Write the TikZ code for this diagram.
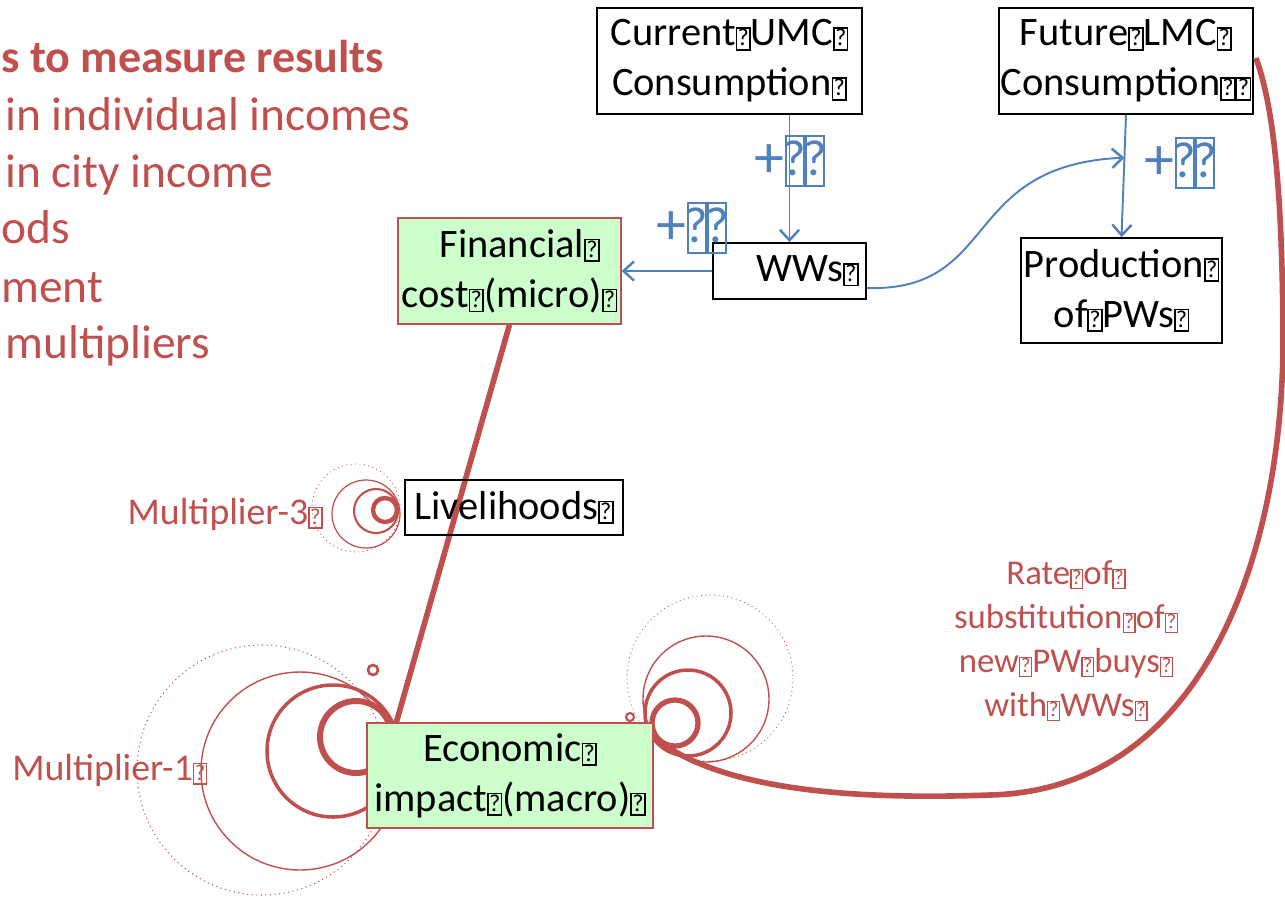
\documentclass[tikz,border=0pt]{standalone}
\usepackage{fontspec}
\setmainfont{Carlito}
\usepackage{tikz}
\usetikzlibrary{arrows.meta,positioning,calc}
\definecolor{rood}{HTML}{C0504D}
\definecolor{blauw}{HTML}{4F81BD}
\definecolor{groen}{HTML}{CCFFCC}
\newcommand{\tofu}{{\setlength{\fboxsep}{0pt}\setlength{\fboxrule}{0.04em}%
  \fbox{\makebox[0.3em]{\rule[-0.08em]{0pt}{0.5em}\raisebox{0.0em}{\scalebox{0.6}{?}}}}}}
\newcommand{\bigtofu}{{\setlength{\fboxsep}{0pt}\setlength{\fboxrule}{0.035em}%
  \fbox{\makebox[0.27em]{\rule[-0.12em]{0pt}{0.8em}\raisebox{0.04em}{\scalebox{0.85}{?}}}}}}
\tikzset{
  doos/.style={draw,line width=1.1pt,align=center,inner sep=0pt,font=\fontsize{23}{28.5}\selectfont},
  groendoos/.style={doos,draw=rood,fill=groen,line width=0.8pt},
  pijl/.style={blauw,line width=1.1pt,-{Straight Barb[length=6pt,width=11pt,line width=1.4pt]}},
  plus/.style={blauw,inner sep=0pt,font=\fontsize{34}{34}\selectfont},
  band/.style={rood,line width=3.2pt},
  lijst/.style={rood,anchor=base west,inner sep=0pt,font=\fontsize{27}{32}\selectfont},
  mult/.style={rood,inner sep=0pt,font=\fontsize{21.5}{24}\selectfont},
}
\begin{document}
\begin{tikzpicture}[x=0.02cm,y=-0.02cm]
  \useasboundingbox (0,0) rectangle (1285,897);
  \clip (0,0) rectangle (1285,897);
  % list, cut at the left
  \node[lijst,font=\fontsize{26.2}{32}\selectfont\bfseries] (kop) at (1,72) {s to measure results};
  \node[lijst] (l1) at (5,130) {in individual incomes};
  \node[lijst] (l2) at (5,187) {in city income};
  \node[lijst] (l3) at (1,243) {ods};
  \node[lijst] (l4) at (1,302) {ment};
  \node[lijst] (l5) at (5,358) {multipliers};
  % multiplier-1 curls
  \begin{scope}[rood]
    \draw[line width=0.6pt,dotted] (262,770) circle (125);
    \draw[line width=0.8pt] (300,771) circle (99);
    \draw[line width=2pt] (333,751) circle (66);
    \draw[line width=3.4pt] (356,737) circle (36);
    \draw[line width=1.5pt] (373,670) circle (5);
  \end{scope}
  % multiplier-3 curls
  \begin{scope}[rood]
    \draw[line width=0.5pt,dotted] (356,508) circle (44);
    \draw[line width=0.7pt] (366,514) circle (34);
    \draw[line width=1.2pt] (376,511) circle (22);
    \draw[line width=2.5pt] (385,510) circle (12);
  \end{scope}
  % curls right of the macro box
  \begin{scope}[rood]
    \draw[line width=0.5pt,dotted] (710,678) circle (83);
    \draw[line width=0.8pt] (706,699) circle (63);
    \draw[line width=2pt] (688,713) circle (43);
    \draw[line width=3pt] (675,723) circle (23);
    \draw[line width=1.2pt] (630,717) circle (4);
  \end{scope}
  % boxes
  \node[doos,minimum width=5.3cm,minimum height=2.12cm] (cur) at (729.5,61) {Current\tofu UMC\tofu\\Consumption\tofu};
  \node[doos,minimum width=5.08cm,minimum height=2.12cm] (fut) at (1126,61) {Future\tofu LMC\tofu\\Consumption\tofu\tofu};
  \node[groendoos,minimum width=4.46cm,minimum height=2.12cm] (fin) at (509.5,271) {\hspace{0.5em}Financial\tofu\\cost\tofu(micro)\tofu};
  \node[doos,minimum width=4.02cm,minimum height=2.1cm] (prod) at (1121.5,290.5) {Production\tofu\\of\tofu PWs\tofu};
  \node[groendoos,minimum width=5.72cm,minimum height=2.1cm] (eco) at (510,775.5) {Economic\tofu\\impact\tofu(macro)\tofu};
  % red links
  \draw[band] (fin.south) -- ($(eco.north west)+(30,0)$);
  \coordinate (ecouit) at ($(eco.north east)+(0,15)$);
  \coordinate (futuit) at ($(fut.east)+(2,-3)$);
  \draw[band] (ecouit) .. controls (720,790) and (850,800) .. (990,795)
    .. controls (1200,790) and (1285,560) .. (1283,330)
    .. controls (1282,200) and (1275,110) .. (futuit);
  \node[doos,minimum width=4.36cm,minimum height=1.1cm] (liv) at (514,507.5) {Livelihoods\tofu};
  \node[doos,minimum width=3.06cm,minimum height=1.12cm] (ww) at (789.5,271) {\hspace{0.9em}WWs\tofu};
  % blue links
  \draw[pijl] (ww.north |- cur.south) -- (ww.north);
  \draw[pijl] (ww.west) -- (fin.east);
  \draw[pijl] (fut.south) -- (prod.north);
  \coordinate (wwuit) at ($(ww.east)+(0,17)$);
  \coordinate (doel) at ($(fut.south)!0.35!(prod.north)$);
  \draw[pijl] (wwuit) .. controls (1000,292) and (960,165) .. (doel);
  \node[plus] (p1) at (790,161) {+\bigtofu\bigtofu};
  \node[plus] (p2) at (692,228) {+\bigtofu\bigtofu};
  \node[plus] (p3) at (1180,163) {+\bigtofu\bigtofu};
  % labels
  \node[mult,anchor=east] (m3) at (323,514) {Multiplier-3\tofu};
  \node[mult,anchor=west] (m1) at (12,770) {Multiplier-1\tofu};
  \node[mult,align=center,font=\fontsize{19.8}{25}\selectfont] (ratio) at (1066,641)
    {Rate\tofu of\tofu\\substitution\tofu of\tofu\\new\tofu PW\tofu buys\tofu\\with\tofu WWs\tofu};
\end{tikzpicture}
\end{document}
